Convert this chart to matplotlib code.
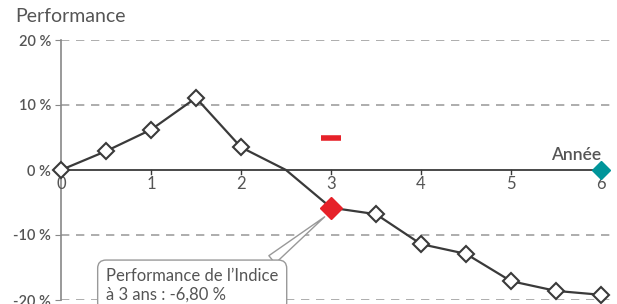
import matplotlib.pyplot as plt
import numpy as np

plt.rcParams['font.family'] = ['Lato', 'DejaVu Sans']

# data
years = [0, 0.5, 1, 1.5, 2, 2.5, 3, 3.5, 4, 4.5, 5, 5.5, 6]
perf = [0, 2.9, 6.2, 11.1, 3.5, 0, -5.8, -6.8, -11.4, -12.9, -17.1, -18.6, -19.2]
marked = [0, 1, 2, 3, 4, 7, 8, 9, 10, 11, 12]   # indices with white diamonds
idx_year = 3
idx_perf = -5.8
barrier_year = 3
barrier_level = 5
end_year = 6
end_level = 0

yticks = [-20, -10, 0, 10, 20]
ytick_labels = ['-20 %', '-10 %', '0 %', '10 %', '20 %']
xticks = [0, 1, 2, 3, 4, 5, 6]

grey = '#555555'
line_col = '#3a3a3a'

fig = plt.figure(figsize=(6.17, 3.04), dpi=100)
ax = fig.add_axes([61/617, 4/304, 549/617, 260/304])
ax.set_xlim(0, 6.1)
ax.set_ylim(-20, 20)

# dashed grid lines
for y in [20, 10, -10, -20]:
    ax.axhline(y, color='#a0a0a0', lw=1.2, ls=(0, (5, 4)), zorder=1)
ax.axhline(0, color=line_col, lw=1.3, zorder=2)

ax.plot(years, perf, color=line_col, lw=1.6, zorder=3, clip_on=False)
ax.plot([years[i] for i in marked], [perf[i] for i in marked], 'D', ms=8,
        mfc='white', mec=line_col, mew=1.5, zorder=4, clip_on=False)
ax.plot([idx_year], [idx_perf], 'D', ms=11, color='#e62129', zorder=5)
ax.plot([barrier_year], [barrier_level], marker='_', ms=15, mew=4,
        color='#e62129', zorder=5)
ax.plot([end_year], [end_level], 'D', ms=9, color='#00959a', zorder=5,
        clip_on=False)

for s in ['top', 'right', 'bottom']:
    ax.spines[s].set_visible(False)
ax.spines['left'].set_color('#888888')
ax.spines['left'].set_linewidth(1.2)

ax.set_yticks(yticks)
ax.set_yticklabels(ytick_labels, fontweight='semibold')
ax.set_xticks([])
ax.tick_params(axis='y', length=4, color='#888888', labelsize=10.5,
               labelcolor=grey, pad=3)
for x in xticks:
    ax.text(x, -0.9, str(x), ha='center', va='top', fontsize=12, color=grey)
    if x > 0:
        ax.plot([x, x], [0, -0.6], color=line_col, lw=1)

ax.text(6.0, 1.0, 'Année', ha='right', va='bottom', fontsize=12.5,
        color=grey, fontweight='semibold')
fig.text(15/617, 1 - 16/304, 'Performance', ha='left', va='center',
         fontsize=14, color=grey)

ax.annotate("Performance de l\u2019Indice\nà 3 ans : -6,80 %",
            xy=(2.93, -7.2), xytext=(0.5, -17.8), textcoords='data',
            ha='left', va='center', fontsize=12, color=grey,
            linespacing=1.2, annotation_clip=False,
            bbox=dict(boxstyle='round,pad=0.5,rounding_size=0.5', fc='white',
                      ec='#999999', lw=1),
            arrowprops=dict(arrowstyle='wedge,tail_width=0.6', fc='white',
                            ec='#999999', lw=1, shrinkA=0, shrinkB=0,
                            relpos=(0.9, 1.0)),
            zorder=6)

fig.savefig('out.png', dpi=100)
